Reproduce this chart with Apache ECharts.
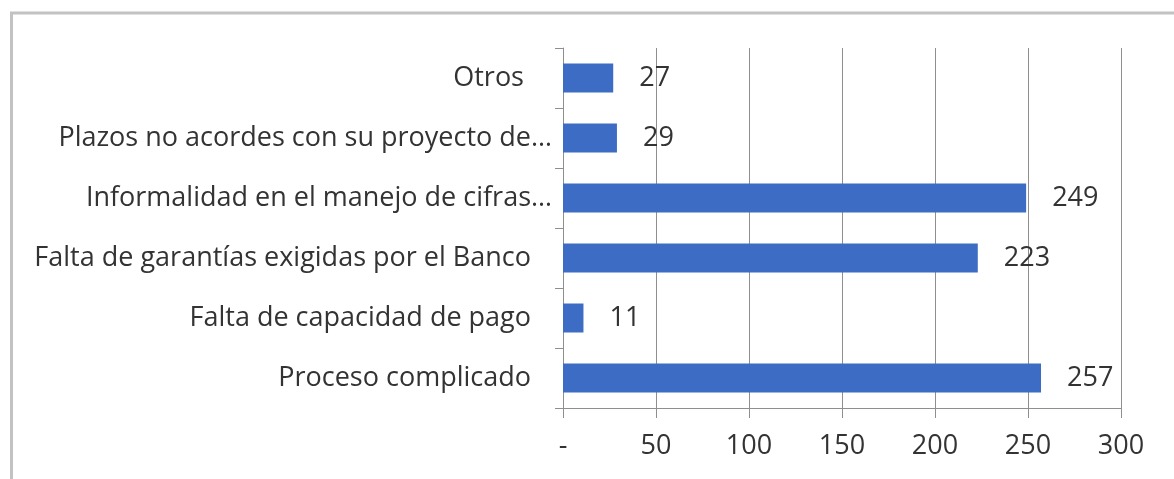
<!DOCTYPE html>
<html>
<head>
<meta charset="utf-8">
<script src="https://cdn.jsdelivr.net/npm/echarts@6/dist/echarts.min.js"></script>
<style>
  html, body { margin: 0; padding: 0; background: #ffffff; }
  #chart { width: 1174px; height: 479px; }
</style>
</head>
<body>
<div id="chart"></div>
<script>
// Categories listed bottom to top, as the y axis draws them
const categories = [
  'Proceso complicado',
  'Falta de capacidad de pago',
  'Falta de garantías exigidas por el Banco',
  'Informalidad en el manejo de cifras…',
  'Plazos no acordes con su proyecto de…',
  'Otros '
];
const values = [257, 11, 223, 249, 29, 27];
const xTicks = { min: 0, max: 300, interval: 50 };

const chart = echarts.init(document.getElementById('chart'), null, { renderer: 'canvas' });

const textColor = '#333333';
const gridColor = '#8f8f8f';
const frameColor = '#c2c2c2';
const fontFamily = '"Open Sans", "Noto Sans", sans-serif';
const fontSize = 27;

chart.setOption({
  animation: false,
  backgroundColor: '#ffffff',
  graphic: [
    { type: 'line', shape: { x1: 10, y1: 13, x2: 1174, y2: 13 }, style: { stroke: frameColor, lineWidth: 3 } },
    { type: 'line', shape: { x1: 11.5, y1: 13, x2: 11.5, y2: 479 }, style: { stroke: frameColor, lineWidth: 3 } }
  ],
  grid: { left: 563, right: 53, top: 48, bottom: 71, containLabel: false },
  xAxis: {
    type: 'value',
    min: xTicks.min,
    max: xTicks.max,
    interval: xTicks.interval,
    axisLine: { show: true, lineStyle: { color: gridColor, width: 1 } },
    axisTick: { show: true, length: 10, lineStyle: { color: gridColor } },
    splitLine: { show: true, lineStyle: { color: gridColor, width: 1 } },
    axisLabel: {
      color: textColor, fontFamily, fontSize, margin: 25,
      formatter: v => (v === 0 ? '-' : String(v))
    }
  },
  yAxis: {
    type: 'category',
    data: categories,
    axisLine: { show: true, lineStyle: { color: gridColor, width: 1 } },
    axisTick: { show: true, length: 8, lineStyle: { color: gridColor } },
    axisLabel: {
      color: textColor, fontFamily, fontSize, margin: 11,
      // shortened labels sit closer to the axis than the full ones
      formatter: v => (v.endsWith('…') ? '{t|' + v + '}' : '{n|' + v + '}'),
      rich: {
        t: { color: textColor, fontFamily, fontSize, padding: [0, 0, 0, 0] },
        n: { color: textColor, fontFamily, fontSize, padding: [0, 21, 0, 0] }
      }
    }
  },
  series: [{
    type: 'bar',
    data: values,
    barWidth: 29,
    itemStyle: { color: '#3d6cc5' },
    label: {
      show: true, position: 'right', distance: 26,
      color: textColor, fontFamily, fontSize
    }
  }]
});
</script>
</body>
</html>
